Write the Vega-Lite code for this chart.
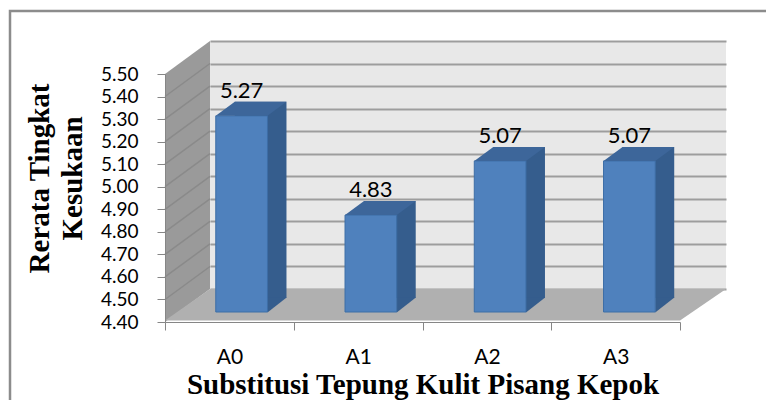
{
  "$schema": "https://vega.github.io/schema/vega-lite/v6.json",
  "width": 516,
  "height": 248,
  "autosize": {"type": "none"},
  "padding": {"left": 210, "top": 41, "right": 40, "bottom": 111},
  "background": "white",
  "config": {"view": {"stroke": null, "fill": "#e8e8e8"}},
  "data": {"values": [
    {"k": "A0", "v": 5.27},
    {"k": "A1", "v": 4.83},
    {"k": "A2", "v": 5.07},
    {"k": "A3", "v": 5.07}
  ]},
  "layer": [
    {
      "data": {"values": [{}]},
      "mark": {"type": "rule", "opacity": 0},
      "encoding": {
        "y": {
          "datum": 4.4, "type": "quantitative",
          "scale": {"domain": [4.4, 5.5], "nice": false},
          "axis": {"orient": "left", "grid": true, "gridColor": "#9d9d9d", "gridWidth": 2, "labels": false, "ticks": false, "domain": false, "title": null,
                   "values": [4.4, 4.5, 4.6, 4.7, 4.8, 4.9, 5.0, 5.1, 5.2, 5.3, 5.4, 5.5]}
        }
      }
    },
    {
      "data": {"values": [{}]},
      "encoding": {
        "x": {
          "datum": "A0", "type": "nominal",
          "scale": {"type": "band", "domain": ["A0", "A1", "A2", "A3"], "range": [-45, 470], "paddingInner": 0, "paddingOuter": 0},
          "axis": {"orient": "bottom", "offset": 33, "tickBand": "extent", "labelAngle": 0, "labelFont": "Lato", "labelFontSize": 21, "labelColor": "#000000", "labelPadding": 16, "tickSize": 8, "tickColor": "#868686", "domainColor": "#868686", "grid": false, "zindex": 1,
                   "title": "Substitusi Tepung Kulit Pisang Kepok", "titleFont": "Liberation Serif", "titleFontSize": 29, "titleFontWeight": "bold", "titleColor": "#000000", "titleBaseline": "alphabetic", "titleY": 71}
        },
        "y": {
          "datum": 4.4, "type": "quantitative",
          "scale": {"domain": [4.4, 5.5], "range": [281, 33], "nice": false},
          "axis": {"orient": "left", "offset": 45, "values": [4.4, 4.5, 4.6, 4.7, 4.8, 4.9, 5.0, 5.1, 5.2, 5.3, 5.4, 5.5], "format": ".2f", "labelFont": "Lato", "labelFontSize": 19, "labelColor": "#000000", "labelPadding": 19, "tickSize": 8, "tickColor": "#868686", "domainColor": "#868686", "grid": false, "zindex": 1,
                   "title": ["Rerata  Tingkat", "Kesukaan"], "titleFont": "Liberation Serif", "titleFontSize": 29, "titleFontWeight": "bold", "titleColor": "#000000", "titleLineHeight": 33, "titleAngle": -90, "titleAlign": "center", "titleBaseline": "middle", "titleX": -126, "titleY": 137}
        }
      },
      "layer": [
        {"mark": {"type": "point", "shape": "M-64.375,0 L-64.375,-248 L-19.375,-281 L-19.375,-33 Z", "size": 4, "filled": true, "color": "#9a9a9a", "opacity": 1}},
        {"mark": {"type": "point", "shape": "M-64.375,-22.5 L-19.375,-55.5 M-64.375,-45.1 L-19.375,-78.1 M-64.375,-67.6 L-19.375,-100.6 M-64.375,-90.2 L-19.375,-123.2 M-64.375,-112.7 L-19.375,-145.7 M-64.375,-135.3 L-19.375,-168.3 M-64.375,-157.8 L-19.375,-190.8 M-64.375,-180.4 L-19.375,-213.4 M-64.375,-202.9 L-19.375,-235.9 M-64.375,-225.5 L-19.375,-258.5", "size": 4, "filled": false, "color": "#8a8a8a", "strokeWidth": 1.5, "opacity": 1}},
        {"mark": {"type": "point", "shape": "M-64.375,-1.5 L450.625,-1.5 L496.625,-33 L-19.375,-33 Z", "size": 4, "filled": true, "color": "#b0b0b0", "opacity": 1}},
        {"mark": {"type": "point", "shape": "M-219.375,90 L-219.375,-311 L560,-311", "size": 4, "filled": false, "color": "#8c8c8c", "strokeWidth": 2.5, "opacity": 1}}
      ]
    },
    {
      "encoding": {
        "x": {
          "field": "k", "type": "nominal",
          "scale": {"type": "band", "domain": ["A0", "A1", "A2", "A3"], "range": [-33, 484], "paddingInner": 0.6, "paddingOuter": 0.3},
          "axis": null
        },
        "y": {
          "field": "v", "type": "quantitative",
          "scale": {"domain": [4.4, 5.5], "range": [271, 23], "nice": false},
          "axis": null
        }
      },
      "layer": [
        {"mark": {"type": "bar", "color": "#355d8d", "xOffset": 19, "x2Offset": 19, "yOffset": -14, "y2Offset": -14}, "encoding": {"y2": {"datum": 4.4}}},
        {"mark": {"type": "point", "shape": "M25.85,-14.5 L25.85,0.5 L45,-14.5 Z", "size": 4, "filled": true, "color": "#355d8d", "opacity": 1}, "encoding": {"y": {"datum": 4.4, "type": "quantitative"}}},
        {"mark": {"type": "bar", "color": "#4f81bd", "stroke": "#3d6ea6", "strokeWidth": 1}, "encoding": {"y2": {"datum": 4.4}}},
        {"mark": {"type": "point", "shape": "M-25.85,0 L25.85,0 L44.85,-14 L-6.85,-14 Z", "size": 4, "filled": true, "color": "#3d669a", "opacity": 1}},
        {"mark": {"type": "text", "dy": -18, "baseline": "alphabetic", "font": "Lato", "fontSize": 22, "color": "#000000"}, "encoding": {"text": {"field": "v", "type": "quantitative", "format": ".2f"}}}
      ]
    }
  ],
  "resolve": {"scale": {"x": "independent", "y": "independent"}}
}
